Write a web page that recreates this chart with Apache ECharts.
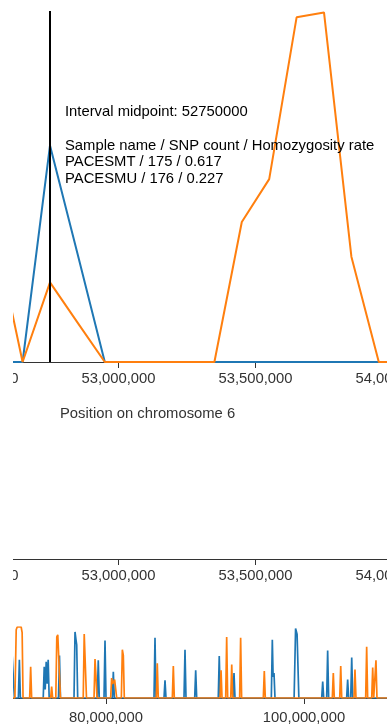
<!DOCTYPE html>
<html>
<head>
<meta charset="utf-8">
<script src="https://cdn.jsdelivr.net/npm/echarts@6/dist/echarts.min.js"></script>
<style>
  html, body { margin: 0; padding: 0; background: #fff; }
  #chart { width: 387px; height: 726px; }
</style>
</head>
<body>
<div id="chart"></div>
<script>
// interval midpoints (bp) and homozygosity rate per sample, detail view
const positions = [52550000, 52650000, 52750000, 52850000, 52950000, 53050000, 53150000, 53250000,
  53350000, 53450000, 53550000, 53650000, 53750000, 53850000, 53950000, 54050000]
const pacesmtRate = [0, 0, 0.617, 0.31, 0, 0, 0, 0, 0, 0, 0, 0, 0, 0, 0, 0]
const pacesmuRate = [0.368, 0, 0.227, 0.113, 0, 0, 0, 0, 0, 0.399, 0.521, 0.982, 0.996, 0.30, 0, 0]

const sampleNames = ['PACESMT', 'PACESMU']
const snpCounts = [175, 176]
const midpoint = 52750000
const axisTitle = 'Position on chromosome 6'

// overview of the whole chromosome, [position, rate]
const overviewPacesmt = [
  [70500000, 0.65], [70650000, 0.65], [70750000, 0],
  [71150000, 0], [71250000, 0.54], [71350000, 0],
  [73660000, 0], [73760000, 0.44], [73860000, 0.12], [73960000, 0.51], [74060000, 0.2], [74160000, 0.54], [74260000, 0],
  [75200000, 0], [75300000, 0.6], [75400000, 0],
  [76770000, 0], [76870000, 0.93], [76970000, 0.82], [77040000, 0.75], [77140000, 0],
  [79120000, 0], [79220000, 0.53], [79320000, 0],
  [79800000, 0], [79900000, 0.81], [80000000, 0],
  [80640000, 0], [80740000, 0.37], [80840000, 0],
  [84850000, 0], [84950000, 0.85], [85050000, 0],
  [85860000, 0], [85960000, 0.25], [86060000, 0],
  [87880000, 0], [87980000, 0.68], [88080000, 0],
  [88960000, 0], [89060000, 0.39], [89160000, 0],
  [91340000, 0], [91440000, 0.59], [91540000, 0],
  [92830000, 0], [92930000, 0.35], [93030000, 0],
  [96700000, 0], [96800000, 0.82], [96880000, 0.3], [96970000, 0.35], [97070000, 0],
  [99000000, 0], [99150000, 0.98], [99300000, 0.9], [99480000, 0],
  [101790000, 0], [101890000, 0.23], [101990000, 0],
  [102290000, 0], [102390000, 0.67], [102490000, 0],
  [104310000, 0], [104410000, 0.26], [104510000, 0],
  [104720000, 0], [104820000, 0.57], [104920000, 0],
  [108500000, 0]
]
const overviewPacesmu = [
  [70500000, 0], [70800000, 0], [70930000, 0.96], [71030000, 1.0], [71430000, 1.0], [71530000, 0.92], [71620000, 0],
  [72290000, 0], [72390000, 0.44], [72490000, 0],
  [74410000, 0], [74510000, 0.16], [74610000, 0],
  [74930000, 0], [75030000, 0.86], [75130000, 0.89], [75300000, 0.87], [75400000, 0],
  [77700000, 0], [77800000, 0.9], [77930000, 0.91], [78030000, 0],
  [78790000, 0], [78890000, 0.55], [78990000, 0.3], [79090000, 0],
  [80470000, 0], [80570000, 0.28], [80670000, 0.2], [80870000, 0.26], [80970000, 0.24], [81080000, 0],
  [81550000, 0], [81650000, 0.68], [81750000, 0.6], [81850000, 0],
  [85080000, 0], [85180000, 0.49], [85280000, 0],
  [86700000, 0], [86800000, 0.45], [86900000, 0],
  [91520000, 0], [91620000, 0.39], [91720000, 0],
  [92090000, 0], [92190000, 0.86], [92290000, 0],
  [92600000, 0], [92700000, 0.47], [92800000, 0],
  [93500000, 0], [93600000, 0.85], [93700000, 0],
  [95890000, 0], [95990000, 0.38], [96090000, 0],
  [102860000, 0], [102960000, 0.35], [103060000, 0],
  [103610000, 0], [103710000, 0.45], [103810000, 0],
  [105050000, 0], [105150000, 0.4], [105250000, 0],
  [106230000, 0], [106330000, 0.72], [106430000, 0],
  [106840000, 0], [106940000, 0.43], [107040000, 0],
  [107170000, 0], [107270000, 0.53], [107370000, 0],
  [108500000, 0]
]

const colors = ['#1f77b4', '#ff7f0e']
const font = 'Liberation Sans'
const fontSize = 14.8

const pair = (xs, ys) => xs.map((x, i) => [x, ys[i]])
const fmt = v => Math.round(v).toLocaleString('en-US')

// tooltip-like text at the midpoint
const midIdx = positions.indexOf(midpoint)
const rates = [pacesmtRate, pacesmuRate]
const infoLines = ['Interval midpoint: ' + midpoint, '', 'Sample name / SNP count / Homozygosity rate']
sampleNames.forEach((n, i) => {
  infoLines.push(n + ' / ' + snpCounts[i] + ' / ' + rates[i][midIdx])
})

function xAxisCfg (gridIndex, min, max, interval, margin) {
  return {
    type: 'value',
    gridIndex: gridIndex,
    min: min,
    max: max,
    interval: interval,
    axisLine: { show: true, onZero: false, lineStyle: { color: '#333', width: 1 } },
    axisTick: { show: true, length: 6, lineStyle: { color: '#333' } },
    splitLine: { show: false },
    axisLabel: {
      show: true,
      showMinLabel: true,
      showMaxLabel: true,
      margin: margin,
      color: '#333',
      fontFamily: font,
      fontSize: fontSize,
      formatter: fmt
    }
  }
}

function yAxisCfg (gridIndex) {
  return { type: 'value', gridIndex: gridIndex, min: 0, max: 1, show: false, splitLine: { show: false } }
}

const myChart = echarts.init(document.getElementById('chart'), null, { renderer: 'canvas' })
const option = {
  animation: false,
  backgroundColor: '#fff',
  color: colors,
  grid: [
    { left: -18.5, right: -5.5, top: 11, height: 351, outerBoundsMode: 'none', containLabel: false },
    { left: -18.5, right: -5.5, top: 499, height: 60, outerBoundsMode: 'none', containLabel: false },
    { left: -92, right: -115, top: 627, height: 71, outerBoundsMode: 'none', containLabel: false }
  ],
  xAxis: [
    xAxisCfg(0, 52500000, 54000000, 500000, 9),
    xAxisCfg(1, 52500000, 54000000, 500000, 9),
    xAxisCfg(2, 60000000, 120000000, 20000000, 12)
  ],
  yAxis: [yAxisCfg(0), yAxisCfg(1), yAxisCfg(2)],
  series: [
    {
      name: sampleNames[0],
      type: 'line',
      xAxisIndex: 0,
      yAxisIndex: 0,
      showSymbol: false,
      lineStyle: { width: 2, color: colors[0] },
      data: pair(positions, pacesmtRate)
    },
    {
      name: sampleNames[1],
      type: 'line',
      xAxisIndex: 0,
      yAxisIndex: 0,
      showSymbol: false,
      lineStyle: { width: 2, color: colors[1] },
      data: pair(positions, pacesmuRate),
      markLine: {
        silent: true,
        symbol: ['none', 'none'],
        label: { show: false },
        lineStyle: { color: '#000', width: 2, type: 'solid' },
        data: [{ xAxis: midpoint }]
      }
    },
    {
      name: sampleNames[0],
      type: 'line',
      xAxisIndex: 2,
      yAxisIndex: 2,
      showSymbol: false,
      lineStyle: { width: 1.7, color: colors[0] },
      data: overviewPacesmt
    },
    {
      name: sampleNames[1],
      type: 'line',
      xAxisIndex: 2,
      yAxisIndex: 2,
      showSymbol: false,
      lineStyle: { width: 1.7, color: colors[1] },
      data: overviewPacesmu
    }
  ],
  graphic: [
    {
      type: 'text',
      left: 65,
      top: 103.7,
      z: 50,
      style: { text: infoLines.join('\n'), fill: '#000', font: fontSize + 'px "' + font + '"', lineHeight: 16.7 }
    },
    {
      type: 'text',
      left: 60,
      top: 406,
      style: { text: axisTitle, fill: '#333', font: fontSize + 'px "' + font + '"' }
    },
    {
      // plot area starts at x=13, hide what lies left of it
      type: 'rect',
      left: 0,
      top: 0,
      z: 100,
      shape: { width: 13, height: 726 },
      style: { fill: '#fff' }
    }
  ]
}
myChart.setOption(option, true)
</script>
</body>
</html>
